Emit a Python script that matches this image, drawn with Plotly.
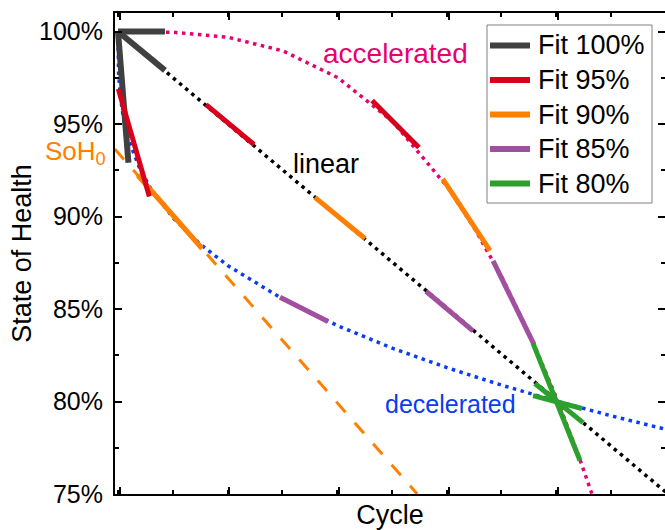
import plotly.graph_objects as go

# Degradation trajectories (cycle in arbitrary units, SoH in %)
cycle_linear = [0, 5.0]
soh_linear = [100, 75.0]

cycle_accel = [0, 0.5, 1.0, 1.5, 2.0, 2.5, 3.0, 3.25, 3.5, 3.75, 4.0, 4.1, 4.2, 4.3, 4.32]
soh_accel = [100, 99.96, 99.69, 98.95, 97.5, 95.12, 91.56, 89.27, 86.6, 83.52, 80.0, 78.46, 76.85, 75.15, 74.8]

cycle_decel = [0, 0.005, 0.02, 0.05, 0.1, 0.2, 0.3, 0.5, 0.75, 1.0, 1.5, 2.0, 2.5, 3.0, 3.5, 4.0, 4.5, 5.0]
soh_decel = [100, 97.8, 96.52, 95.29, 94.08, 92.56, 91.49, 89.93, 88.49, 87.34, 85.53, 84.09, 82.87, 81.81, 80.86, 80.0, 79.2, 78.47]

# Local linear fits (segments separated by None)
fit100_x = [0, 0.427, None, 0, 0.427, None, 0, 0.095]
fit100_y = [100, 100, None, 100, 97.9, None, 100, 92.9]

fit95_x = [0.003, 0.285, None, 0.8, 1.236, None, 2.31, 2.736]
fit95_y = [96.9, 91.08, None, 96.05, 93.89, None, 96.27, 93.73]

fit90_x = [0.18, 0.764, None, 1.79, 2.245, None, 2.952, 3.382]
fit90_y = [92.23, 88.27, None, 91.03, 88.81, None, 92.04, 88.16]

fit85_x = [1.473, 1.909, None, 2.8, 3.227, None, 3.41, 3.78]
fit85_y = [85.64, 84.32, None, 85.96, 83.82, None, 87.6, 83.1]

fit80_x = [3.773, 4.2, None, 3.79, 4.227, None, 3.773, 4.218]
fit80_y = [83.14, 76.81, None, 80.97, 78.86, None, 80.32, 79.62]

# Extrapolated 90% fit on the decelerated curve and its intercept
soh0 = 93.45
ext_x = [-0.03, 2.72]
ext_y = [93.65, 75.0]

y_ticks = [75, 80, 85, 90, 95, 100]
y_ticktext = [f"{v}%" for v in y_ticks]

FONT = "Arial, Liberation Sans, sans-serif"
C_GRAY = "#404040"
C_RED = "#d9001b"
C_ORANGE = "#ff8000"
C_PURPLE = "#a0509f"
C_GREEN = "#2ca02c"
C_PINK = "#e8006f"
C_BLUE = "#0a3cf0"

fig = go.Figure()

dot = "3.5px,4.5px"
fig.add_trace(go.Scatter(x=cycle_linear, y=soh_linear, mode="lines", showlegend=False,
                         line=dict(color="black", width=3.5, dash=dot)))
fig.add_trace(go.Scatter(x=cycle_accel, y=soh_accel, mode="lines", showlegend=False,
                         line=dict(color=C_PINK, width=3.5, dash=dot)))
fig.add_trace(go.Scatter(x=cycle_decel, y=soh_decel, mode="lines", showlegend=False,
                         line=dict(color=C_BLUE, width=3.5, dash=dot)))
fig.add_trace(go.Scatter(x=ext_x, y=ext_y, mode="lines", showlegend=False,
                         line=dict(color=C_ORANGE, width=3, dash="14px,14px")))

# drawing order (orange beneath gray/red), legend order given separately
fits = {
    "Fit 100%": (fit100_x, fit100_y, C_GRAY, 6),
    "Fit 95%": (fit95_x, fit95_y, C_RED, 5),
    "Fit 90%": (fit90_x, fit90_y, C_ORANGE, 5),
    "Fit 85%": (fit85_x, fit85_y, C_PURPLE, 5),
    "Fit 80%": (fit80_x, fit80_y, C_GREEN, 5),
}
draw_order = ["Fit 90%", "Fit 100%", "Fit 95%", "Fit 85%", "Fit 80%"]
legend_order = ["Fit 100%", "Fit 95%", "Fit 90%", "Fit 85%", "Fit 80%"]

for name in draw_order:
    xs, ys, col, w = fits[name]
    fig.add_trace(go.Scatter(x=xs, y=ys, mode="lines", name=name, showlegend=False,
                             connectgaps=False, line=dict(color=col, width=w)))

axis_common = dict(showline=True, linecolor="black", linewidth=2, mirror="ticks",
                   ticks="inside", ticklen=7, tickwidth=2, tickcolor="black",
                   showgrid=False, zeroline=False, automargin=False)

fig.update_xaxes(range=[-0.0273, 4.9727], tick0=0.018, dtick=0.9955, showticklabels=False,
                 minor=dict(ticks="inside", ticklen=4, tickwidth=2, tickcolor="black", dtick=0.49775),
                 title=dict(text="Cycle", font=dict(family=FONT, size=27, color="black"), standoff=12),
                 **axis_common)
fig.update_yaxes(range=[75, 101], tickvals=y_ticks, ticktext=y_ticktext,
                 tickfont=dict(family=FONT, size=25, color="black"), ticklabelstandoff=5,
                 minor=dict(ticks="inside", ticklen=4, tickwidth=2, tickcolor="black", dtick=2.5, tick0=75),
                 title=dict(text="State of Health", font=dict(family=FONT, size=27, color="black"), standoff=0),
                 **axis_common)

fig.add_annotation(x=2.527, y=98.81, text="accelerated", showarrow=False,
                   font=dict(family=FONT, size=28, color=C_PINK))
fig.add_annotation(x=1.895, y=92.86, text="linear", showarrow=False,
                   font=dict(family=FONT, size=27, color="black"))
fig.add_annotation(x=3.027, y=79.84, text="decelerated", showarrow=False,
                   font=dict(family=FONT, size=25, color=C_BLUE))
fig.add_annotation(xref="paper", x=-0.0127, y=soh0, xanchor="right", yanchor="middle",
                   text="SoH<sub>0</sub>", showarrow=False,
                   font=dict(family=FONT, size=26, color=C_ORANGE))

# Legend box, drawn in paper coordinates
W, H = 665, 530
ML, MR, MT, MB = 115, 0, 13, 36
pw, ph = W - ML - MR, H - MT - MB


def px_x(p):
    return (p - ML) / pw


def px_y(p):
    return (H - MB - p) / ph


fig.add_shape(type="rect", xref="paper", yref="paper",
              x0=px_x(487), x1=px_x(652), y0=px_y(203), y1=px_y(25),
              line=dict(color="#808080", width=1), fillcolor="white", layer="above")
row0, row_step = 45.5, 34.5
for i, name in enumerate(legend_order):
    _, _, col, w = fits[name]
    yc = px_y(row0 + i * row_step)
    fig.add_shape(type="line", xref="paper", yref="paper",
                  x0=px_x(490), x1=px_x(530), y0=yc, y1=yc,
                  line=dict(color=col, width=6), layer="above")
    fig.add_annotation(xref="paper", yref="paper", x=px_x(536), y=yc,
                       xanchor="left", yanchor="middle", text=name, showarrow=False,
                       font=dict(family=FONT, size=27, color="black"))

fig.update_layout(
    width=W, height=H,
    margin=dict(l=ML, r=MR, t=MT, b=MB),
    plot_bgcolor="white", paper_bgcolor="white",
    font=dict(family=FONT, color="black"),
    showlegend=False,
)

fig.write_html("out.html")
